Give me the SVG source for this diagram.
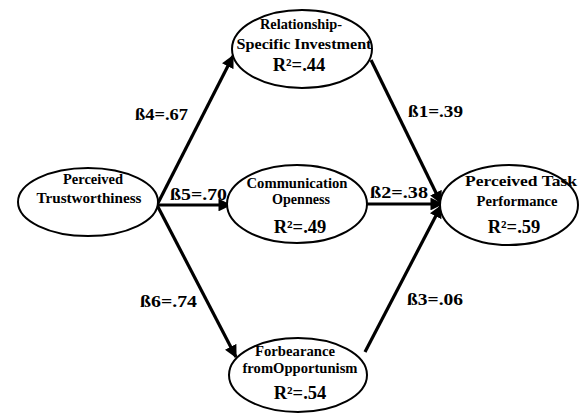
<svg xmlns="http://www.w3.org/2000/svg" width="579" height="414" viewBox="0 0 579 414">
<style>
.node ellipse{fill:#fff;stroke:#000;stroke-width:2}
text{font-family:"Liberation Serif","Times New Roman",serif;font-weight:bold;fill:#000}
.nm{font-size:15px}
.r2{font-size:18.5px}
.b{font-size:17px}
.conn line{stroke:#000;stroke-width:3.2}
</style>
<defs>
<marker id="ah" viewBox="0 0 10 10" refX="9" refY="5" markerWidth="4" markerHeight="4" orient="auto" markerUnits="strokeWidth">
<path d="M0,0 L10,5 L0,10 z" fill="#000"/>
</marker>
</defs>
<rect width="579" height="414" fill="#fff"/>
<g class="conn">
<line x1="157" y1="205" x2="233" y2="56" marker-end="url(#ah)"/>
<line x1="157" y1="205" x2="230" y2="205" marker-end="url(#ah)"/>
<line x1="157" y1="205" x2="236" y2="357" marker-end="url(#ah)"/>
<line x1="371" y1="60" x2="441" y2="203" marker-end="url(#ah)"/>
<line x1="366" y1="204" x2="442" y2="204" marker-end="url(#ah)"/>
<line x1="365" y1="352" x2="441" y2="206" marker-end="url(#ah)"/>
</g>
<g id="trust" class="node">
<ellipse cx="88" cy="202" rx="70" ry="34"/>
<text class="nm" x="93" y="184" text-anchor="middle" textLength="60" lengthAdjust="spacingAndGlyphs">Perceived</text>
<text class="nm" x="89" y="203" text-anchor="middle" textLength="105" lengthAdjust="spacingAndGlyphs">Trustworthiness</text>
</g>
<g id="rsi" class="node">
<ellipse cx="302" cy="49" rx="70" ry="39"/>
<text class="nm" x="301" y="29" text-anchor="middle" textLength="82" lengthAdjust="spacingAndGlyphs">Relationship-</text>
<text class="nm" x="304" y="49" text-anchor="middle" textLength="135" lengthAdjust="spacingAndGlyphs">Specific  Investment</text>
<text class="r2" x="299" y="71" text-anchor="middle">R²=.44</text>
</g>
<g id="co" class="node">
<ellipse cx="297" cy="204" rx="70" ry="39"/>
<text class="nm" x="297" y="188" text-anchor="middle" textLength="101" lengthAdjust="spacingAndGlyphs">Communication</text>
<text class="nm" x="301" y="204" text-anchor="middle" textLength="58" lengthAdjust="spacingAndGlyphs">Openness</text>
<text class="r2" x="300" y="233" text-anchor="middle">R²=.49</text>
</g>
<g id="forb" class="node">
<ellipse cx="298" cy="375" rx="69" ry="37"/>
<text class="nm" x="295" y="356" text-anchor="middle" textLength="80" lengthAdjust="spacingAndGlyphs">Forbearance</text>
<text class="nm" x="300" y="373" text-anchor="middle" textLength="115" lengthAdjust="spacingAndGlyphs">fromOpportunism</text>
<text class="r2" x="300" y="399" text-anchor="middle">R²=.54</text>
</g>
<g id="perf" class="node">
<ellipse cx="509" cy="205" rx="69" ry="40"/>
<text class="nm" x="521" y="186" text-anchor="middle" textLength="112" lengthAdjust="spacingAndGlyphs">Perceived  Task</text>
<text class="nm" x="517" y="206" text-anchor="middle" textLength="81" lengthAdjust="spacingAndGlyphs">Performance</text>
<text class="r2" x="514" y="233" text-anchor="middle">R²=.59</text>
</g>
<g id="labels">
<text class="b" x="135" y="120" textLength="53" lengthAdjust="spacingAndGlyphs">ß4=.67</text>
<text class="b" x="170" y="200" textLength="57" lengthAdjust="spacingAndGlyphs">ß5=.70</text>
<text class="b" x="140" y="307" textLength="57" lengthAdjust="spacingAndGlyphs">ß6=.74</text>
<text class="b" x="408" y="117" textLength="55" lengthAdjust="spacingAndGlyphs">ß1=.39</text>
<text class="b" x="370" y="198" textLength="58" lengthAdjust="spacingAndGlyphs">ß2=.38</text>
<text class="b" x="407" y="305" textLength="56" lengthAdjust="spacingAndGlyphs">ß3=.06</text>
</g>
</svg>
